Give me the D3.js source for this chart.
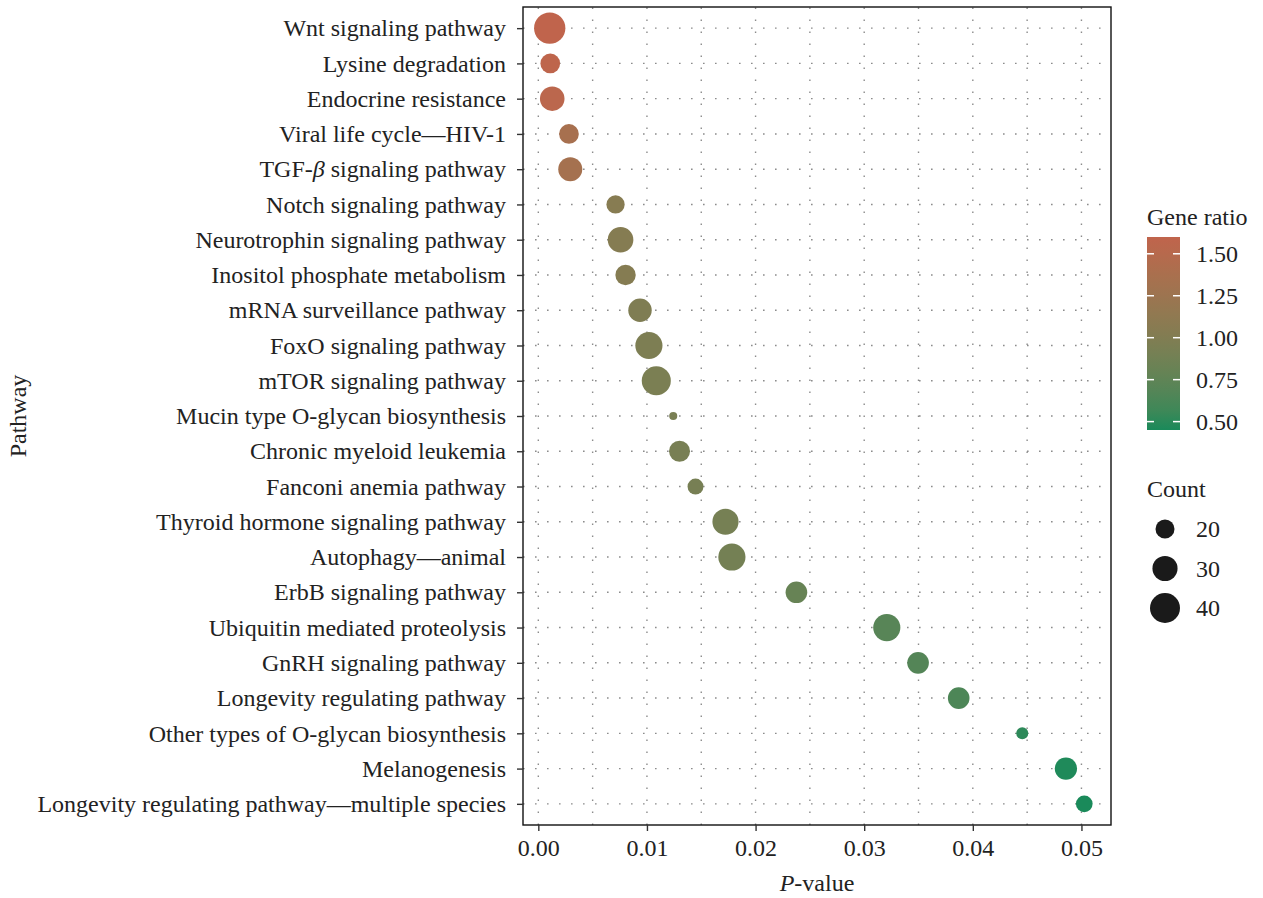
<!DOCTYPE html>
<html>
<head>
<meta charset="utf-8">
<script src="https://cdn.jsdelivr.net/npm/d3@7"></script>
<style>
  html, body { margin: 0; padding: 0; background: #fff; }
  svg text { font-family: "Liberation Serif", "Times New Roman", serif; fill: #222; }
</style>
</head>
<body>
<svg id="chart"></svg>
<script>
// -- DATA (top row first) --
const pathways = [
  "Wnt signaling pathway",
  "Lysine degradation",
  "Endocrine resistance",
  "Viral life cycle\u2014HIV-1",
  "TGF-\u03B2 signaling pathway",
  "Notch signaling pathway",
  "Neurotrophin signaling pathway",
  "Inositol phosphate metabolism",
  "mRNA surveillance pathway",
  "FoxO signaling pathway",
  "mTOR signaling pathway",
  "Mucin type O-glycan biosynthesis",
  "Chronic myeloid leukemia",
  "Fanconi anemia pathway",
  "Thyroid hormone signaling pathway",
  "Autophagy\u2014animal",
  "ErbB signaling pathway",
  "Ubiquitin mediated proteolysis",
  "GnRH signaling pathway",
  "Longevity regulating pathway",
  "Other types of O-glycan biosynthesis",
  "Melanogenesis",
  "Longevity regulating pathway\u2014multiple species"
];
const pValues = [
  0.00105, 0.0011, 0.00128, 0.00282, 0.00294, 0.00711, 0.00757, 0.00803,
  0.00936, 0.01018, 0.01086, 0.01242, 0.0130, 0.01447, 0.01723, 0.01782,
  0.02376, 0.03208, 0.03496, 0.0387, 0.04455, 0.04857, 0.05026
];
const counts = [
  43, 21, 29, 21, 28, 19, 31, 22, 27, 34, 38, 9, 23, 16, 32, 34,
  24, 34, 24, 24, 12, 25, 17
];
const geneRatios = [
  1.60, 1.58, 1.55, 1.35, 1.33, 1.05, 1.04, 1.04, 0.99, 0.97, 0.95, 0.94,
  0.93, 0.92, 0.91, 0.90, 0.80, 0.70, 0.68, 0.64, 0.50, 0.46, 0.45
];
const xTickLabels = ["0.00", "0.01", "0.02", "0.03", "0.04", "0.05"];
const ratioTicks = [0.5, 0.75, 1.0, 1.25, 1.5];
const countBreaks = [20, 30, 40];

const rows = pathways.map((name, i) => ({
  name, p: pValues[i], count: counts[i], ratio: geneRatios[i]
}));

// -- LAYOUT --
const width = 1263, height = 898;
const panel = { left: 523, right: 1111, top: 7, bottom: 825 };
const fontSize = 24;

const svg = d3.select("#chart").attr("width", width).attr("height", height);

// Scales
const pMin = d3.min(pValues), pMax = d3.max(pValues);
const pad = (pMax - pMin) * 0.05;
const x = d3.scaleLinear()
  .domain([pMin - pad, pMax + pad])
  .range([panel.left, panel.right]);
const y = d3.scalePoint()
  .domain(pathways)
  .range([panel.top, panel.bottom])
  .padding(0.6);
const ratioMin = d3.min(geneRatios), ratioMax = d3.max(geneRatios);
const color = d3.scaleLinear()
  .domain([ratioMin, ratioMax])
  .range(["#1a8a5a", "#c0644c"])
  .interpolate(d3.interpolateLab);
const size = d3.scaleRadial().domain([20, 40]).range([9.5, 15]);

// -- GRID (dotted) --
const grid = svg.append("g").attr("stroke", "#8c8c8c").attr("stroke-width", 1.4)
  .attr("stroke-dasharray", "1.6 10.4").attr("fill", "none");
grid.selectAll("line.v")
  .data(x.ticks(10))
  .enter().append("line")
  .attr("x1", d => x(d)).attr("x2", d => x(d))
  .attr("y1", panel.bottom).attr("y2", panel.top);
grid.selectAll("line.h")
  .data(pathways)
  .enter().append("line")
  .attr("y1", d => y(d)).attr("y2", d => y(d))
  .attr("x1", panel.left).attr("x2", panel.right);

// -- POINTS --
svg.append("g").selectAll("circle")
  .data(rows)
  .enter().append("circle")
  .attr("cx", d => x(d.p))
  .attr("cy", d => y(d.name))
  .attr("r", d => size(d.count))
  .attr("fill", d => color(d.ratio));

// panel border
svg.append("rect")
  .attr("x", panel.left).attr("y", panel.top)
  .attr("width", panel.right - panel.left)
  .attr("height", panel.bottom - panel.top)
  .attr("fill", "none").attr("stroke", "#111").attr("stroke-width", 1.4);

// -- AXES --
const xAxis = svg.append("g")
  .attr("transform", `translate(0,${panel.bottom})`)
  .call(d3.axisBottom(x).tickValues(xTickLabels.map(Number))
    .tickFormat((d, i) => xTickLabels[i]).tickSize(6).tickPadding(6));
const yAxis = svg.append("g")
  .attr("transform", `translate(${panel.left},0)`)
  .call(d3.axisLeft(y).tickSize(6).tickPadding(11));
[xAxis, yAxis].forEach(a => {
  a.select(".domain").remove();
  a.selectAll(".tick line").attr("stroke", "#333").attr("stroke-width", 1.4);
  a.selectAll(".tick text").attr("font-size", fontSize).style("fill", "#222")
    .attr("font-family", null);
});
xAxis.selectAll(".tick text").attr("dy", "0.8em");

// italic beta in the TGF label
yAxis.selectAll(".tick text")
  .filter(d => d.includes("\u03B2"))
  .each(function (d) {
    const parts = d.split("\u03B2");
    const t = d3.select(this).text("");
    t.append("tspan").text(parts[0]);
    t.append("tspan").attr("font-style", "italic").text("\u03B2");
    t.append("tspan").text(parts[1]);
  });

// axis titles
const xTitle = svg.append("text")
  .attr("x", (panel.left + panel.right) / 2)
  .attr("y", 891)
  .attr("text-anchor", "middle")
  .attr("font-size", fontSize);
xTitle.append("tspan").attr("font-style", "italic").text("P");
xTitle.append("tspan").text("-value");
svg.append("text")
  .attr("transform", `translate(26,${(panel.top + panel.bottom) / 2}) rotate(-90)`)
  .attr("text-anchor", "middle")
  .attr("font-size", fontSize)
  .text("Pathway");

// -- LEGEND: gene ratio colourbar --
const bar = { x: 1147, y: 237, w: 33, h: 193 };
const barScale = d3.scaleLinear().domain([ratioMin, ratioMax]).range([bar.y + bar.h, bar.y]);
const defs = svg.append("defs");
const grad = defs.append("linearGradient").attr("id", "ratioGrad")
  .attr("x1", 0).attr("x2", 0).attr("y1", 1).attr("y2", 0);
d3.range(0, 1.0001, 0.1).forEach(t => {
  grad.append("stop").attr("offset", t)
    .attr("stop-color", color(ratioMin + t * (ratioMax - ratioMin)));
});
svg.append("text").attr("x", bar.x).attr("y", 225)
  .attr("font-size", fontSize).text("Gene ratio");
svg.append("rect")
  .attr("x", bar.x).attr("y", bar.y).attr("width", bar.w).attr("height", bar.h)
  .attr("fill", "url(#ratioGrad)");
const barTicks = svg.append("g").selectAll("g")
  .data(ratioTicks).enter().append("g")
  .attr("transform", d => `translate(0,${barScale(d)})`);
barTicks.append("line").attr("x1", bar.x).attr("x2", bar.x + 7)
  .attr("stroke", "#fff").attr("stroke-width", 1.5);
barTicks.append("line").attr("x1", bar.x + bar.w - 7).attr("x2", bar.x + bar.w)
  .attr("stroke", "#fff").attr("stroke-width", 1.5);
barTicks.append("text")
  .attr("x", bar.x + bar.w + 16).attr("dy", "0.35em")
  .attr("font-size", fontSize)
  .text(d => d3.format(".2f")(d));

// -- LEGEND: count --
svg.append("text").attr("x", bar.x).attr("y", 497)
  .attr("font-size", fontSize).text("Count");
const sizeKeys = svg.append("g").selectAll("g")
  .data(countBreaks).enter().append("g")
  .attr("transform", (d, i) => `translate(1165,${529 + i * 39.5})`);
sizeKeys.append("circle").attr("r", d => size(d)).attr("fill", "#1a1a1a");
sizeKeys.append("text").attr("x", 31).attr("dy", "0.35em")
  .attr("font-size", fontSize).text(d => d);
</script>
</body>
</html>
